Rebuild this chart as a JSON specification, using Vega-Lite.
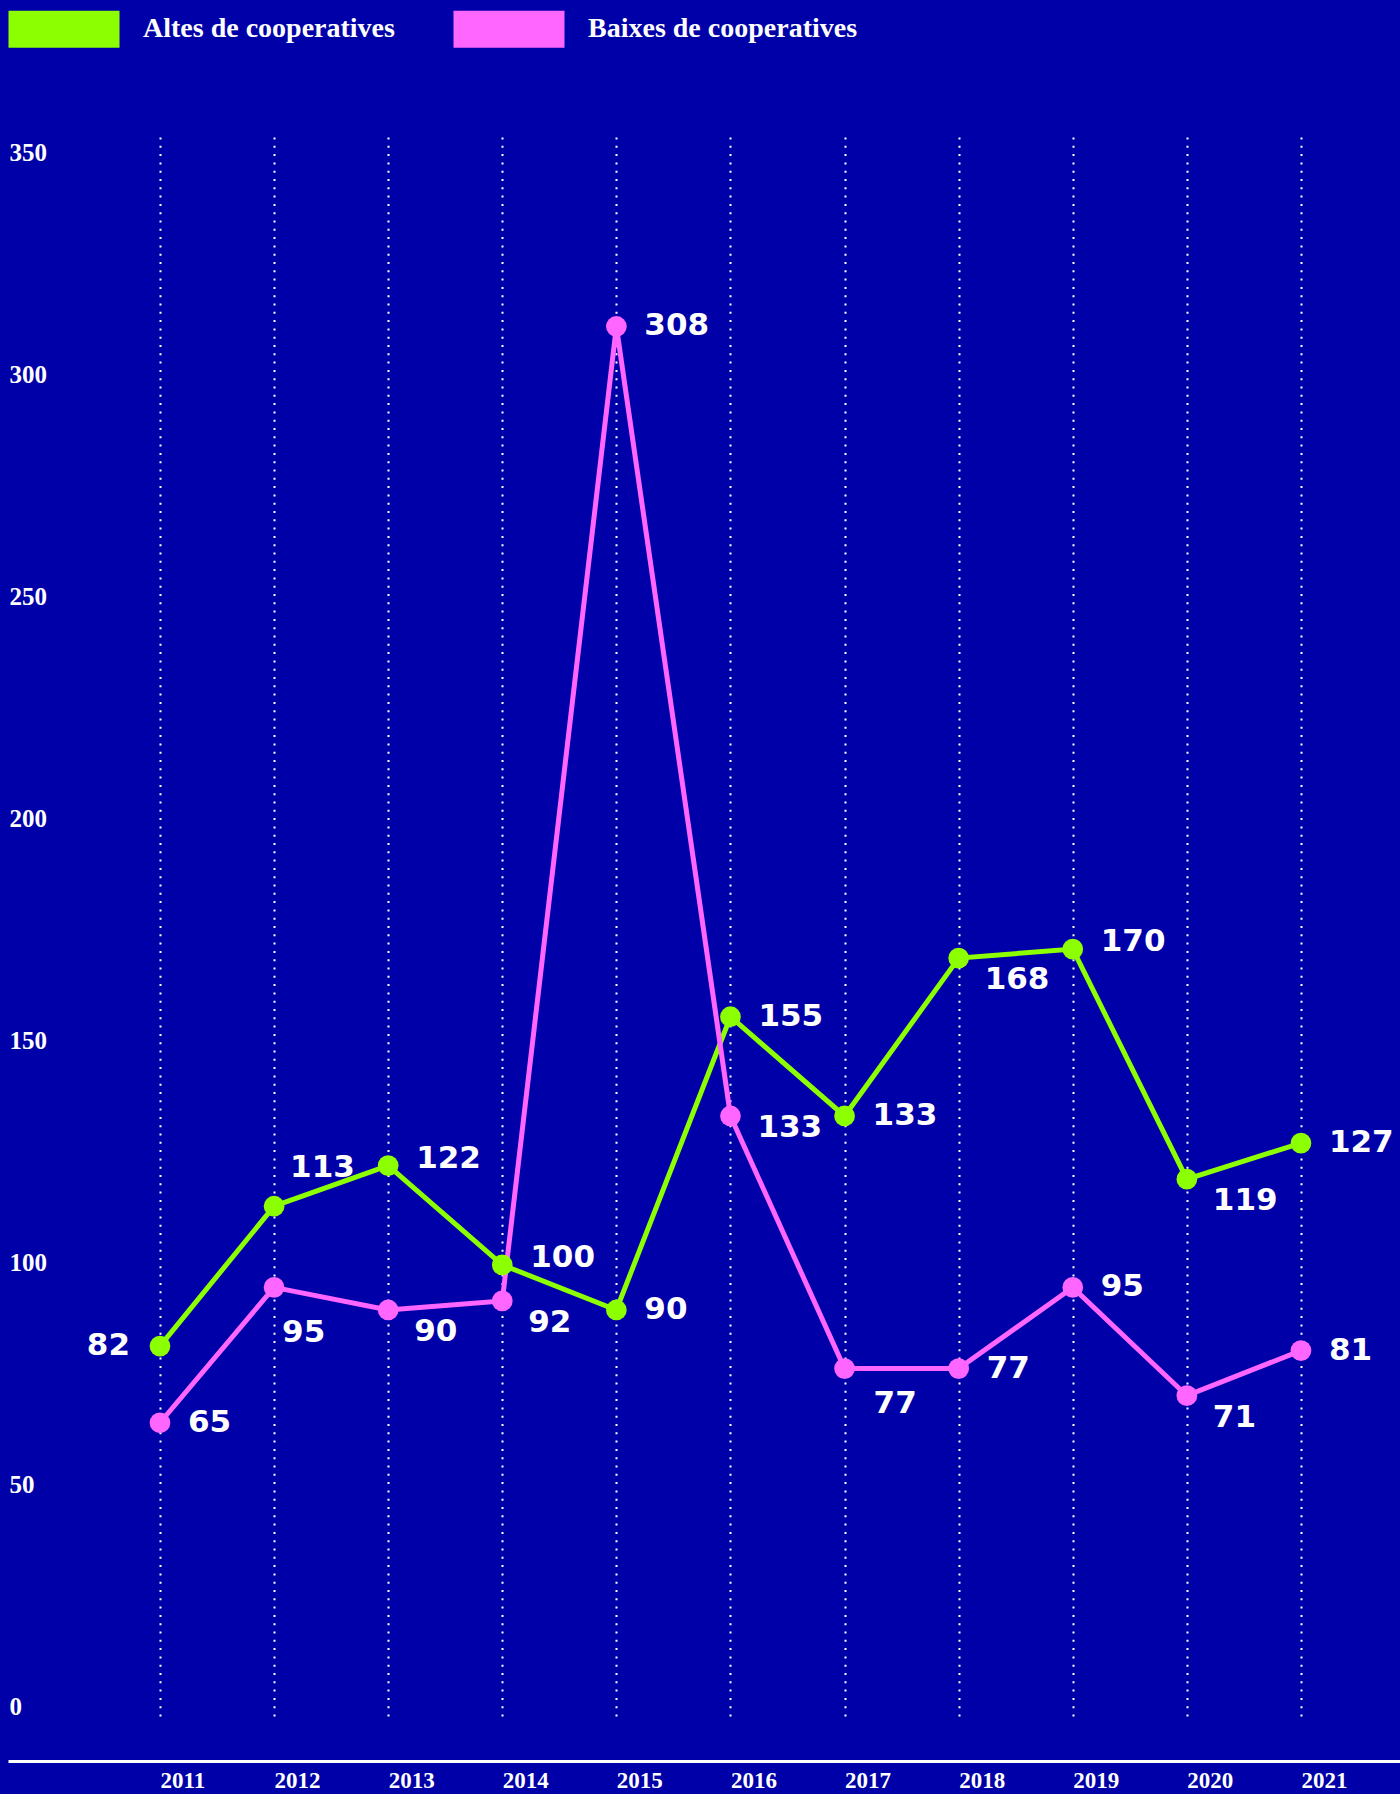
{
  "$schema": "https://vega.github.io/schema/vega-lite/v6.json",
  "width": 1392,
  "height": 1579,
  "autosize": "none",
  "padding": {"left": 8, "top": 137, "right": 0, "bottom": 78},
  "background": "#0000A8",
  "config": {
    "view": {"stroke": null},
    "axis": {"labelFlush": false, "labelOverlap": false, "labelBound": false}
  },
  "data": {
    "values": [
      {"year": 2011, "serie": "Altes de cooperatives", "value": 82},
      {"year": 2012, "serie": "Altes de cooperatives", "value": 113},
      {"year": 2013, "serie": "Altes de cooperatives", "value": 122},
      {"year": 2014, "serie": "Altes de cooperatives", "value": 100},
      {"year": 2015, "serie": "Altes de cooperatives", "value": 90},
      {"year": 2016, "serie": "Altes de cooperatives", "value": 155},
      {"year": 2017, "serie": "Altes de cooperatives", "value": 133},
      {"year": 2018, "serie": "Altes de cooperatives", "value": 168},
      {"year": 2019, "serie": "Altes de cooperatives", "value": 170},
      {"year": 2020, "serie": "Altes de cooperatives", "value": 119},
      {"year": 2021, "serie": "Altes de cooperatives", "value": 127},
      {"year": 2011, "serie": "Baixes de cooperatives", "value": 65},
      {"year": 2012, "serie": "Baixes de cooperatives", "value": 95},
      {"year": 2013, "serie": "Baixes de cooperatives", "value": 90},
      {"year": 2014, "serie": "Baixes de cooperatives", "value": 92},
      {"year": 2015, "serie": "Baixes de cooperatives", "value": 308},
      {"year": 2016, "serie": "Baixes de cooperatives", "value": 133},
      {"year": 2017, "serie": "Baixes de cooperatives", "value": 77},
      {"year": 2018, "serie": "Baixes de cooperatives", "value": 77},
      {"year": 2019, "serie": "Baixes de cooperatives", "value": 95},
      {"year": 2020, "serie": "Baixes de cooperatives", "value": 71},
      {"year": 2021, "serie": "Baixes de cooperatives", "value": 81}
    ]
  },
  "layer": [
    {
      "encoding": {
        "x": {
          "field": "year",
          "type": "quantitative",
          "scale": {"domain": [2009.668, 2021.868], "nice": false, "zero": false},
          "axis": {
            "title": null,
            "values": [2011, 2012, 2013, 2014, 2015, 2016, 2017, 2018, 2019, 2020, 2021],
            "format": "d",
            "orient": "bottom",
            "offset": 45,
            "domain": true,
            "domainColor": "#ffffff",
            "domainWidth": 3,
            "ticks": false,
            "tickSize": 0,
            "labelAlign": "left",
            "labelBaseline": "top",
            "labelPadding": 8,
            "labelFont": "Liberation Serif",
            "labelFontSize": 23,
            "labelFontWeight": "bold",
            "labelColor": "#ffffff",
            "grid": true,
            "gridColor": "#ffffff",
            "gridDash": [2, 6.3],
            "gridWidth": 2,
            "gridOpacity": 1
          }
        },
        "y": {
          "field": "value",
          "type": "quantitative",
          "scale": {"domain": [0, 350], "nice": false, "zero": false},
          "axis": null
        },
        "color": {
          "field": "serie",
          "type": "nominal",
          "scale": {"domain": ["Altes de cooperatives", "Baixes de cooperatives"], "range": ["#8CFF00", "#FF66FF"]},
          "legend": {
            "title": null,
            "orient": "none",
            "legendX": 19,
            "legendY": -145,
            "direction": "horizontal",
            "symbolType": "M-1.5,-0.5H1.5V0.5H-1.5Z",
            "symbolSize": 5476,
            "symbolStrokeWidth": 0,
            "symbolOpacity": 1,
            "labelOffset": 42,
            "labelFont": "Liberation Serif",
            "labelFontSize": 28,
            "labelFontWeight": "bold",
            "labelColor": "#ffffff",
            "labelLimit": 1000,
            "columnPadding": 58,
            "padding": 0
          }
        }
      },
      "layer": [
        {
          "mark": {"type": "line", "strokeWidth": 5},
          "encoding": {"order": {"field": "year"}}
        },
        {
          "mark": {"type": "point", "filled": true, "size": 430, "opacity": 1}
        },
        {
          "transform": [{"filter": "(datum.serie == 'Altes de cooperatives' && indexof([2015, 2016, 2017, 2021], datum.year) >= 0) || (datum.serie == 'Baixes de cooperatives' && indexof([2011, 2015, 2018, 2019, 2021], datum.year) >= 0)"}],
          "mark": {"type": "text", "align": "left", "baseline": "middle", "dx": 28, "dy": 0, "font": "DejaVu Sans", "fontWeight": "bold", "fontSize": 31, "color": "#ffffff"},
          "encoding": {"text": {"field": "value", "type": "quantitative"}, "color": {"value": "#ffffff"}}
        },
        {
          "transform": [{"filter": "datum.serie == 'Altes de cooperatives' && indexof([2013, 2014, 2019], datum.year) >= 0"}],
          "mark": {"type": "text", "align": "left", "baseline": "middle", "dx": 28, "dy": -7, "font": "DejaVu Sans", "fontWeight": "bold", "fontSize": 31, "color": "#ffffff"},
          "encoding": {"text": {"field": "value", "type": "quantitative"}, "color": {"value": "#ffffff"}}
        },
        {
          "transform": [{"filter": "datum.serie == 'Baixes de cooperatives' && datum.year == 2016"}],
          "mark": {"type": "text", "align": "left", "baseline": "middle", "dx": 27, "dy": 12, "font": "DejaVu Sans", "fontWeight": "bold", "fontSize": 31, "color": "#ffffff"},
          "encoding": {"text": {"field": "value", "type": "quantitative"}, "color": {"value": "#ffffff"}}
        },
        {
          "transform": [{"filter": "(datum.serie == 'Altes de cooperatives' && indexof([2018, 2020], datum.year) >= 0) || (datum.serie == 'Baixes de cooperatives' && indexof([2013, 2014, 2020], datum.year) >= 0)"}],
          "mark": {"type": "text", "align": "left", "baseline": "middle", "dx": 26, "dy": 22, "font": "DejaVu Sans", "fontWeight": "bold", "fontSize": 31, "color": "#ffffff"},
          "encoding": {"text": {"field": "value", "type": "quantitative"}, "color": {"value": "#ffffff"}}
        },
        {
          "transform": [{"filter": "datum.serie == 'Baixes de cooperatives' && datum.year == 2017"}],
          "mark": {"type": "text", "align": "left", "baseline": "middle", "dx": 29, "dy": 35, "font": "DejaVu Sans", "fontWeight": "bold", "fontSize": 31, "color": "#ffffff"},
          "encoding": {"text": {"field": "value", "type": "quantitative"}, "color": {"value": "#ffffff"}}
        },
        {
          "transform": [{"filter": "datum.serie == 'Baixes de cooperatives' && datum.year == 2012"}],
          "mark": {"type": "text", "align": "left", "baseline": "middle", "dx": 8, "dy": 46, "font": "DejaVu Sans", "fontWeight": "bold", "fontSize": 31, "color": "#ffffff"},
          "encoding": {"text": {"field": "value", "type": "quantitative"}, "color": {"value": "#ffffff"}}
        },
        {
          "transform": [{"filter": "datum.serie == 'Altes de cooperatives' && datum.year == 2012"}],
          "mark": {"type": "text", "align": "left", "baseline": "middle", "dx": 16, "dy": -38, "font": "DejaVu Sans", "fontWeight": "bold", "fontSize": 31, "color": "#ffffff"},
          "encoding": {"text": {"field": "value", "type": "quantitative"}, "color": {"value": "#ffffff"}}
        },
        {
          "transform": [{"filter": "datum.serie == 'Altes de cooperatives' && datum.year == 2011"}],
          "mark": {"type": "text", "align": "right", "baseline": "middle", "dx": -30, "dy": 0, "font": "DejaVu Sans", "fontWeight": "bold", "fontSize": 31, "color": "#ffffff"},
          "encoding": {"text": {"field": "value", "type": "quantitative"}, "color": {"value": "#ffffff"}}
        }
      ]
    },
    {
      "mark": {"type": "point", "opacity": 0},
      "encoding": {
        "y": {
          "field": "value",
          "type": "quantitative",
          "scale": {"domain": [-2.03, 353.6], "nice": false, "zero": false},
          "axis": {
            "title": null,
            "orient": "left",
            "values": [0, 50, 100, 150, 200, 250, 300, 350],
            "domain": false,
            "ticks": false,
            "tickSize": 0,
            "grid": false,
            "labelAlign": "left",
            "labelBaseline": "middle",
            "labelPadding": -1,
            "labelFont": "Liberation Serif",
            "labelFontSize": 25,
            "labelFontWeight": "bold",
            "labelColor": "#ffffff"
          }
        }
      }
    }
  ],
  "resolve": {"scale": {"y": "independent"}}
}
